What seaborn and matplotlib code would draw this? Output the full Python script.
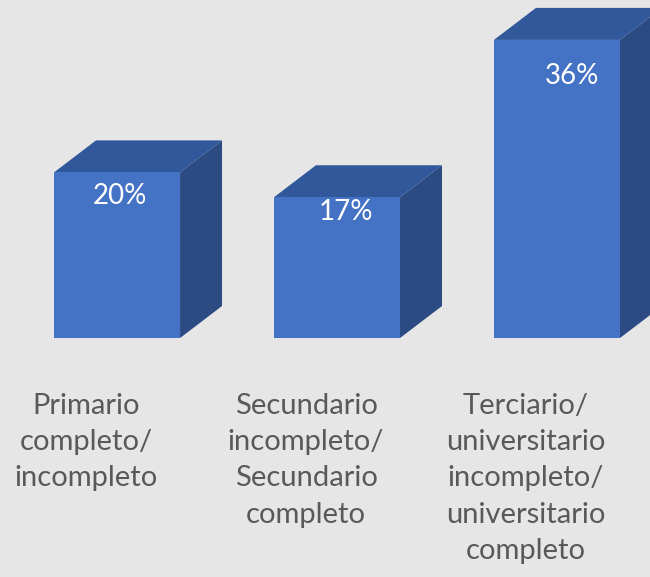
import matplotlib
matplotlib.use("Agg")
import matplotlib.pyplot as plt
import seaborn as sns
import pandas as pd
from matplotlib.patches import Polygon

# datos
categorias = ["Primario\ncompleto/\nincompleto",
              "Secundario\nincompleto/\nSecundario\ncompleto",
              "Terciario/\nuniversitario\nincompleto/\nuniversitario\ncompleto"]
valores = [20, 17, 36]
etiquetas = ["20%", "17%", "36%"]

frente = "#4472c4"
techo = "#31589b"
lado = "#2b4b82"
fondo = "#e6e6e6"

df = pd.DataFrame({"cat": categorias, "val": valores})

fig = plt.figure(figsize=(6.5, 5.77), dpi=100)
fig.patch.set_facecolor(fondo)
ax = fig.add_axes([0, 0, 1, 1])
ax.set_facecolor(fondo)

ancho = 0.573
sns.barplot(data=df, x="cat", y="val", color=frente, saturation=1,
            width=ancho, linewidth=0, ax=ax, zorder=3)

ax.set_xlim(-0.532, 2.423)
ax.set_ylim(-28.86, 40.82)
ax.axis("off")

# profundidad (en pixeles -> datos)
px_x = 220.0
px_y = 8.28
dx = 42 / px_x
dy = 32 / px_y

# desplazamiento de etiquetas como en el original (px)
lab_dx = [3, 9, 15]
lab_dy = [24, 15, 36]

for i, v in enumerate(valores):
    x0 = i - ancho / 2
    x1 = i + ancho / 2
    top = Polygon([(x0, v), (x1, v), (x1 + dx, v + dy), (x0 + dx, v + dy)],
                  closed=True, facecolor=techo, edgecolor="none", zorder=2)
    side = Polygon([(x1, 0), (x1 + dx, dy), (x1 + dx, v + dy), (x1, v)],
                   closed=True, facecolor=lado, edgecolor="none", zorder=2)
    ax.add_patch(top)
    ax.add_patch(side)
    ax.text(i + lab_dx[i] / px_x, v - lab_dy[i] / px_y, etiquetas[i],
            ha="center", va="center", color="white", fontsize=20,
            family="Lato", zorder=5)
    ax.text(i - 31 / px_x, -6.6, categorias[i], ha="center", va="top",
            color="#595959", fontsize=21, family="Lato", linespacing=1.49)

fig.savefig("out.png", dpi=100, facecolor=fondo)
